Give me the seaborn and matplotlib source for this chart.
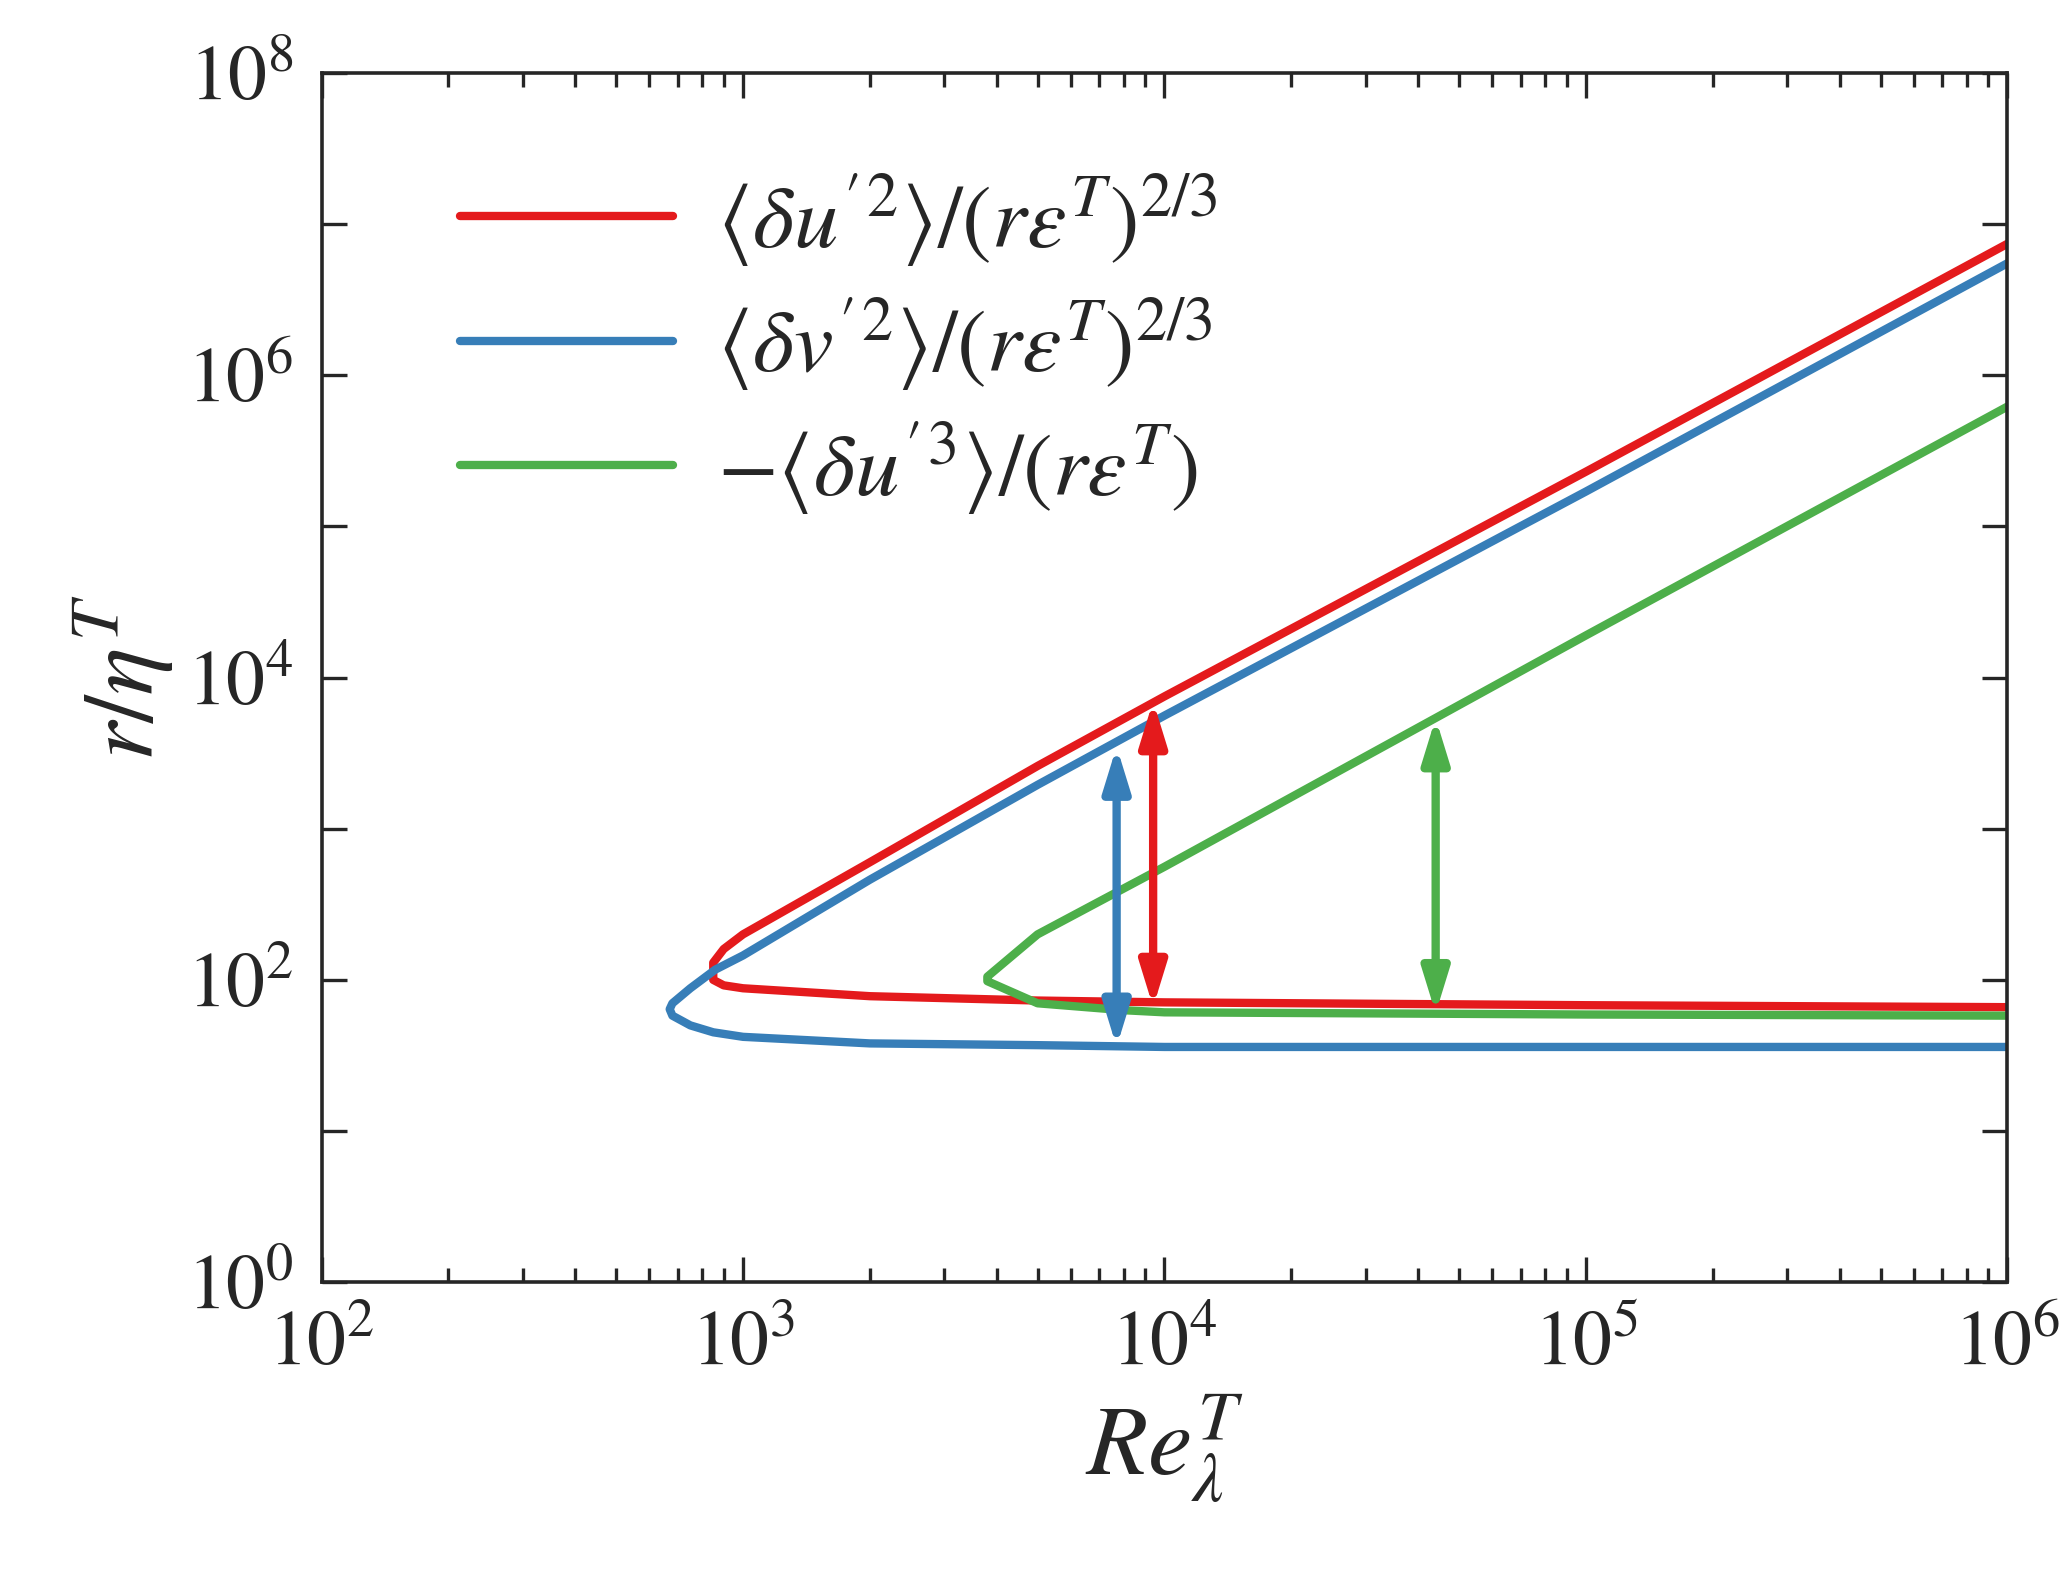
import numpy as np
import pandas as pd
import matplotlib
matplotlib.use("Agg")
import matplotlib.pyplot as plt
import seaborn as sns

# Curve points (Re, r/eta), traced along each loop (upper branch reversed, then lower branch)
red_x = [1e6, 1e5, 1e4, 5e3, 2e3, 1e3, 900, 850, 850, 900, 1e3, 2e3, 5e3, 1e4, 1e5, 1e6]
red_y = [7.4e6, 2.3e5, 7.5e3, 2.6e3, 600, 200, 160, 130, 100, 92, 88, 78, 73, 71, 68, 66]
blue_x = [1e6, 1e5, 1e4, 5e3, 2e3, 1e3, 860, 750, 680, 670, 680, 750, 850, 1e3, 2e3, 5e3, 1e4, 1e5, 1e6]
blue_y = [5.5e6, 1.7e5, 5.6e3, 1.95e3, 460, 145, 117, 88, 70, 64, 58, 50, 45, 42, 38, 37, 36, 36, 36]
green_x = [1e6, 1e5, 4.4e4, 1e4, 5e3, 3.8e3, 3.8e3, 5e3, 8e3, 1e4, 1e5, 1e6]
green_y = [6.2e5, 1.9e4, 5.4e3, 560, 200, 105, 98, 70, 63, 61, 59, 58]

arrows = [  # x, y_low, y_high, colour
    (7.7e3, 36, 3.5e3, "#377eb8"),
    (9.4e3, 66, 7.0e3, "#e41a1c"),
    (4.4e4, 60, 5.4e3, "#4daf4a"),
]
labels = [r"$\langle\delta u'^{2}\rangle/(r\varepsilon^{T})^{2/3}$",
          r"$\langle\delta v'^{2}\rangle/(r\varepsilon^{T})^{2/3}$",
          r"$-\langle\delta u'^{3}\rangle/(r\varepsilon^{T})$"]
colors = ["#e41a1c", "#377eb8", "#4daf4a"]

sns.set_style("ticks")
plt.rcParams["font.family"] = ["Liberation Serif", "DejaVu Serif"]
plt.rcParams["mathtext.fontset"] = "stix"

fig = plt.figure(figsize=(10.305, 7.915), dpi=200)
ax = fig.add_axes([0.156, 0.19, 0.818, 0.764])

for xs, ys, lab, c in zip([red_x, blue_x, green_x], [red_y, blue_y, green_y], labels, colors):
    df = pd.DataFrame({"x": xs, "y": ys})
    sns.lineplot(data=df, x="x", y="y", sort=False, estimator=None, ax=ax,
                 color=c, lw=3.0, label=lab)

for x, lo, hi, c in arrows:
    ax.annotate("", xy=(x, hi), xytext=(x, lo),
                arrowprops=dict(arrowstyle="<|-|>,head_length=1.3,head_width=0.4",
                                color=c, lw=3.0, shrinkA=0, shrinkB=0))

ax.set_xscale("log")
ax.set_yscale("log")
ax.set_xlim(1e2, 1e6)
ax.set_ylim(1e0, 1e8)
ax.set_yticks([10.0**k for k in range(0, 9)])
ax.set_yticklabels([rf"$10^{{{k}}}$" if k % 2 == 0 else "" for k in range(0, 9)])
ax.yaxis.set_minor_locator(matplotlib.ticker.NullLocator())
ax.set_xticks([10.0**k for k in range(2, 7)])
ax.set_xticklabels([rf"$10^{{{k}}}$" for k in range(2, 7)])
ax.xaxis.set_minor_locator(matplotlib.ticker.LogLocator(base=10, subs=np.arange(2, 10)))
ax.tick_params(which="both", direction="in", top=True, right=True, labelsize=28, width=1.2)
ax.tick_params(which="major", length=9, pad=10)
ax.tick_params(which="minor", length=5)
for s in ax.spines.values():
    s.set_linewidth(1.3)
ax.set_xlabel(r"$Re_{\lambda}^{T}$", fontsize=36)
ax.set_ylabel(r"$r/\eta^{T}$", fontsize=36)

ax.legend(loc="upper left", frameon=False, fontsize=32, handlelength=2.4,
          handletextpad=0.5, borderaxespad=0.3, labelspacing=0.3,
          bbox_to_anchor=(0.045, 0.97))

fig.savefig("out.png", dpi=200)
